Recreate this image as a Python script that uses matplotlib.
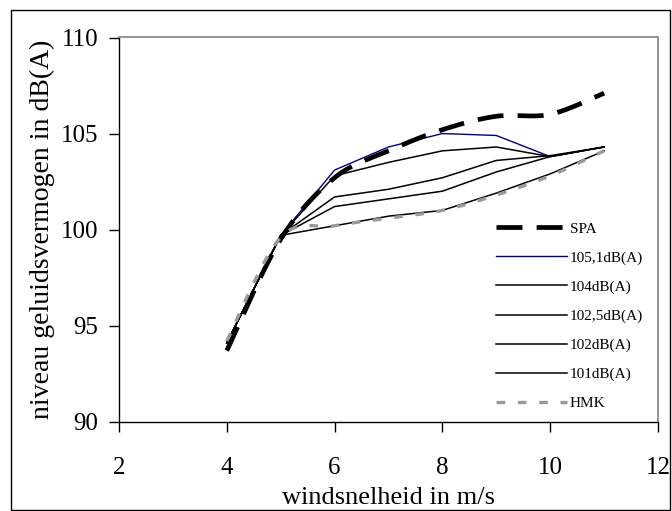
import numpy as np
import matplotlib
matplotlib.use("Agg")
import matplotlib.pyplot as plt
from matplotlib.patches import Rectangle

plt.rcParams['font.family'] = ['Liberation Serif', 'DejaVu Serif']

# --------------------------------------------
# Data
# --------------------------------------------
wind = [4, 5, 6, 7, 8, 9, 10, 11]
spa = [93.7, 99.5, 102.7, 104.1, 105.2, 105.9, 106.0, 107.1]
l105_1 = [94.1, 99.7, 103.1, 104.3, 105.0, 104.9, 103.8, 104.3]
l104 = [94.1, 99.7, 102.8, 103.5, 104.1, 104.3, 103.8, 104.3]
l102_5 = [94.1, 99.7, 101.7, 102.1, 102.7, 103.6, 103.85, 104.3]
l102 = [94.1, 99.7, 101.2, 101.6, 102.0, 103.0, 103.8, 104.3]
l101 = [94.1, 99.7, 100.2, 100.7, 101.0, 101.9, 102.9, 104.1]
hmk = [94.2, 99.6, 100.2, 100.6, 101.0, 101.8, 102.8, 104.1]

x_ticks = [2, 4, 6, 8, 10, 12]
y_ticks = [90, 95, 100, 105, 110]


def smooth(xs, ys, n=20):
    """Catmull-Rom curve through the points (like Excel's smoothed line)."""
    p = np.column_stack([xs, ys]).astype(float)
    p = np.vstack([p[0], p, p[-1]])
    out = []
    t = np.linspace(0, 1, n)[:, None]
    for i in range(1, len(p) - 2):
        p0, p1, p2, p3 = p[i - 1], p[i], p[i + 1], p[i + 2]
        seg = 0.5 * ((2 * p1) + (-p0 + p2) * t
                     + (2 * p0 - 5 * p1 + 4 * p2 - p3) * t ** 2
                     + (-p0 + 3 * p1 - 3 * p2 + p3) * t ** 3)
        out.append(seg if i == 1 else seg[1:])
    out = np.vstack(out)
    return out[:, 0], out[:, 1]


fig = plt.figure(figsize=(6.72, 5.11), dpi=100)
ax = fig.add_axes([119 / 672, 1 - 421.7 / 511, 539 / 672, 384.2 / 511])

sx, sy = smooth(wind, spa)
hx, hy = smooth(wind, hmk)

ax.plot(sx, sy, color="black", lw=3.4, dashes=(5.5, 3.0), label="SPA", zorder=4)
ax.plot(wind, l105_1, color="#000080", lw=1.0, label="105,1dB(A)", zorder=3)
ax.plot(wind, l104, color="black", lw=1.1, label="104dB(A)", zorder=3)
ax.plot(wind, l102_5, color="black", lw=1.1, label="102,5dB(A)", zorder=3)
ax.plot(wind, l102, color="black", lw=1.1, label="102dB(A)", zorder=3)
ax.plot(wind, l101, color="black", lw=1.1, label="101dB(A)", zorder=3)
ax.plot(hx, hy, color="#999999", lw=2.4, dashes=(2.6, 3.8), label="HMK", zorder=5)

ax.set_xlim(2, 12)
ax.set_ylim(90, 110)
ax.set_xticks(x_ticks)
ax.set_yticks(y_ticks)
ax.tick_params(axis="both", direction="out", length=7, width=1, labelsize=18)
ax.tick_params(axis="x", pad=18.5)
ax.tick_params(axis="y", pad=8)

for side in ["top", "right"]:
    ax.spines[side].set_color("#8c8c8c")
    ax.spines[side].set_linewidth(1.3)
for side in ["left", "bottom"]:
    ax.spines[side].set_color("black")
    ax.spines[side].set_linewidth(1.0)

ax.set_xlabel("windsnelheid in m/s", fontsize=19, labelpad=6)
ax.set_ylabel("niveau geluidsvermogen in dB(A)", fontsize=20, labelpad=4)

ax.legend(loc="upper left", bbox_to_anchor=(0.70, 0.52), frameon=False,
          fontsize=11, handlelength=4.6, handletextpad=0.2,
          labelspacing=1.0, borderpad=0, borderaxespad=0)

# outer chart border
fig.patches.append(Rectangle((11 / 672, 1 / 511), 659 / 672, 500 / 511,
                             transform=fig.transFigure, fill=False,
                             edgecolor="black", lw=1.0))

plt.savefig("out.png", dpi=100)
